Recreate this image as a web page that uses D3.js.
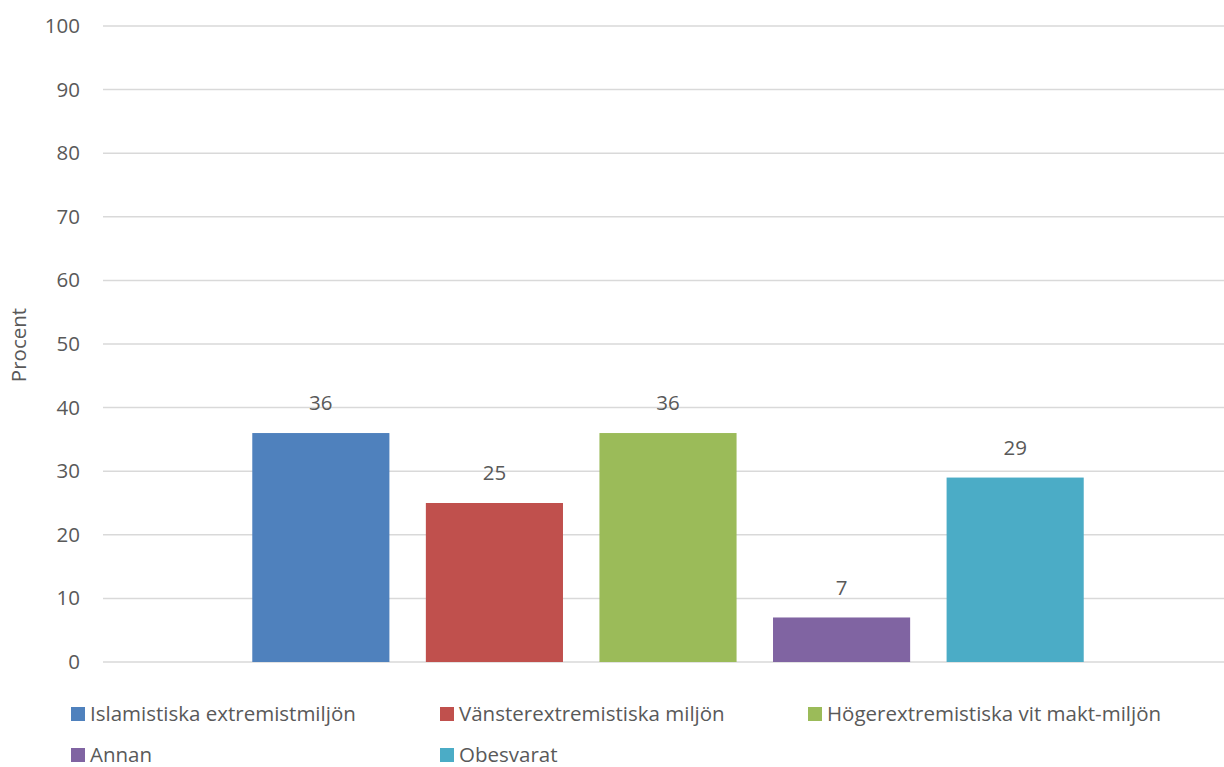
<!DOCTYPE html>
<html>
<head>
	<title>Procent</title>
	<meta charset="utf-8">
	<script src="https://cdnjs.cloudflare.com/ajax/libs/d3/7.8.5/d3.min.js"></script>
	<style type="text/css">
		body { margin: 0; background: #fff; }
		text { font-family: "Open Sans", sans-serif; fill: #595959; }
	</style>
</head>
<body>
	<script type="text/javascript">

		let series = ['Islamistiska extremistmiljön', 'Vänsterextremistiska miljön', 'Högerextremistiska vit makt-miljön', 'Annan', 'Obesvarat'];
		let values = [36, 25, 36, 7, 29];
		let colors = ['#4F81BD', '#C0504D', '#9BBB59', '#8064A2', '#4BACC6'];
		let yTicks = [0, 10, 20, 30, 40, 50, 60, 70, 80, 90, 100];

		let width = 1224, height = 767;
		let fontSize = '20.5px';
		let svg = d3.select('body').append('svg')
			.attr('width', width)
			.attr('height', height);

		let xScale = d3.scaleBand().domain(series)
			.range([103, 1233])
			.paddingInner(0.21)
			.paddingOuter(0.86);
		let yScale = d3.scaleLinear().domain([0, 100]).range([662, 26]);

		// gridlines
		svg.selectAll('line.grid').data(yTicks).enter().append('line')
			.attr('class', 'grid')
			.attr('x1', 103).attr('x2', width)
			.attr('y1', d => yScale(d)).attr('y2', d => yScale(d))
			.attr('stroke', '#d9d9d9')
			.attr('stroke-width', 1.5);

		// y axis labels
		let yAxis = d3.axisLeft(yScale).tickValues(yTicks).tickSize(0).tickPadding(0);
		svg.append('g')
			.attr('transform', 'translate(80,0)')
			.call(yAxis)
			.call(g => g.select('.domain').remove())
			.selectAll('text')
			.style('font-size', fontSize)
			.attr('fill', '#595959');

		svg.append('text')
			.attr('transform', 'translate(26,345) rotate(-90)')
			.attr('text-anchor', 'middle')
			.style('font-size', fontSize)
			.text('Procent');

		// bars
		svg.selectAll('rect.bar').data(values).enter().append('rect')
			.attr('class', 'bar')
			.attr('x', (d, i) => xScale(series[i]))
			.attr('y', d => yScale(d))
			.attr('width', xScale.bandwidth())
			.attr('height', d => yScale(0) - yScale(d))
			.attr('fill', (d, i) => colors[i]);

		svg.selectAll('text.val').data(values).enter().append('text')
			.attr('class', 'val')
			.attr('x', (d, i) => xScale(series[i]) + xScale.bandwidth() / 2)
			.attr('y', d => yScale(d) - 30)
			.attr('dy', '0.35em')
			.attr('text-anchor', 'middle')
			.style('font-size', fontSize)
			.text(d => d);

		// legend
		let legX = [71, 440, 808, 71, 440];
		let legY = [714, 714, 714, 755, 755];
		let leg = svg.selectAll('g.leg').data(series).enter().append('g')
			.attr('class', 'leg')
			.attr('transform', (d, i) => `translate(${legX[i]},${legY[i]})`);
		leg.append('rect')
			.attr('x', 0).attr('y', -7)
			.attr('width', 14).attr('height', 14)
			.attr('fill', (d, i) => colors[i]);
		leg.append('text')
			.attr('x', 19).attr('dy', '0.35em')
			.style('font-size', fontSize)
			.text(d => d);
	</script>
</body>
</html>
